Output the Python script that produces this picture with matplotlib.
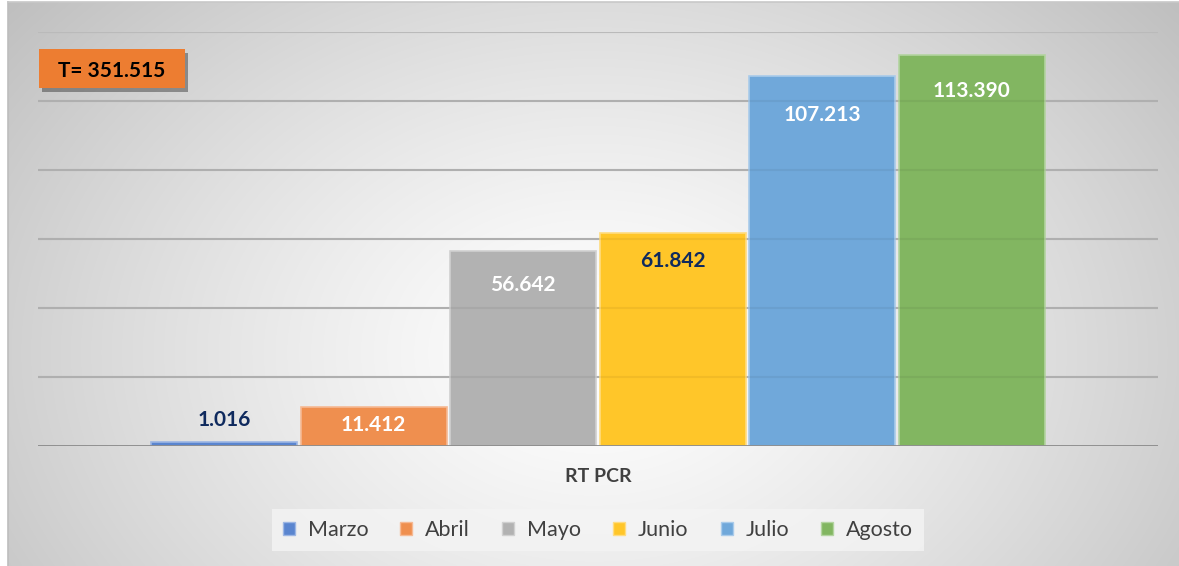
import numpy as np
import matplotlib
matplotlib.use("Agg")
import matplotlib.pyplot as plt
from matplotlib.patches import Patch, Rectangle
from matplotlib import patheffects as pe

# ---- data ----
category = "RT PCR"
months = ["Marzo", "Abril", "Mayo", "Junio", "Julio", "Agosto"]
values = [1016, 11412, 56642, 61842, 107213, 113390]
value_labels = ["1.016", "11.412", "56.642", "61.842", "107.213", "113.390"]
total_label = "T= 351.515"
y_ticks = [0, 20000, 40000, 60000, 80000, 100000, 120000]

# ---- style ----
bar_colors = ["#5a85cf", "#ef8f4f", "#b2b2b2", "#ffc629", "#70a8da", "#82b661"]
edge_colors = ["#9cb6e4", "#f6b993", "#d0d0d0", "#ffdc80", "#a9cbea", "#b3d4a0"]
label_colors = ["#0f2a5e", "white", "white", "#0f2a5e", "white", "white"]
label_offsets_px = [22, -18, -34, -28, -39, -36]
W, H = 1179, 566
FONT = "Lato"

fig = plt.figure(figsize=(W / 100, H / 100), dpi=100)
fig.patch.set_facecolor("white")

# background radial gradient (chart area)
bg = fig.add_axes([8 / W, 0, 1 - 8 / W, 1 - 2 / H])
bg.set_zorder(-10)
ny, nx = 300, 600
yy, xx = np.mgrid[0:ny, 0:nx]
cx, cy = nx * 0.50, ny * 0.62
r = np.sqrt(((xx - cx) / (nx * 0.62)) ** 2 + ((yy - cy) / (ny * 0.95)) ** 2)
val = 1.0 - 0.24 * np.clip(r, 0, 1.2) ** 1.3
val = np.clip(val, 0.7, 1.0)
img = np.dstack([val, val, val])
bg.imshow(img, aspect="auto", extent=[0, 1, 0, 1], origin="upper", interpolation="bilinear")
bg.set_xlim(0, 1); bg.set_ylim(0, 1)
bg.axis("off")
# border lines on left/top
fig.add_artist(plt.Line2D([8 / W, 8 / W], [0, 1 - 2 / H], color="#bdbdbd", lw=1.2))
fig.add_artist(plt.Line2D([8 / W, 1], [1 - 2 / H, 1 - 2 / H], color="#c8c8c8", lw=1.2))

# main axes
ax_left, ax_right, ax_top, ax_bottom = 38, 1158, 32, 446
ax = fig.add_axes([ax_left / W, 1 - ax_bottom / H, (ax_right - ax_left) / W, (ax_bottom - ax_top) / H])
ax.set_facecolor("none")
ax.set_xlim(-0.5, 0.5)
ax.set_ylim(y_ticks[0], y_ticks[-1])
for s in ax.spines.values():
    s.set_visible(False)
ax.set_xticks([])
ax.set_yticks([])
for t in y_ticks[1:]:
    top = t == y_ticks[-1]
    ax.axhline(t, color="#c4c4c4" if top else "#b9b9b9", lw=1.5, zorder=0)
    ax.axhline(t, color="black", lw=1.5, alpha=0.05, zorder=2.5)
ax.axhline(0, color="#8a8a8a", lw=2.0, zorder=3)

step = 0.1335
n = len(values)
xs = [(i - (n - 1) / 2) * step for i in range(n)]
bars = ax.bar(xs, values, width=step - 0.003, color=bar_colors, edgecolor=edge_colors,
              linewidth=1.2, zorder=2)

for x, v, lab, c, off in zip(xs, values, value_labels, label_colors, label_offsets_px):
    ax.annotate(lab, (x, v), xytext=(0, off * 72 / 100), textcoords="offset points",
                ha="center", va="center", fontsize=15, fontweight="bold", color=c,
                family=FONT, zorder=4)

# category label
fig.text(598 / W, 1 - 477 / H, category, ha="center", va="center", fontsize=14,
         fontweight="bold", color="#404040", family=FONT)

# total box
bx0, bx1, by0, by1 = 39, 185, 49, 88
rect = Rectangle((bx0 / W, 1 - by1 / H), (bx1 - bx0) / W, (by1 - by0) / H,
                 transform=fig.transFigure, facecolor="#ed7d31", edgecolor="none", zorder=5)
rect.set_path_effects([pe.SimplePatchShadow(offset=(2, -3), shadow_rgbFace="black", alpha=0.35),
                       pe.Normal()])
fig.add_artist(rect)
fig.text((bx0 + bx1) / 2 / W, 1 - 71 / H, total_label, ha="center", va="center",
         fontsize=15, fontweight="bold", color="black", family=FONT, zorder=6)

# legend
handles = [Patch(facecolor=c, edgecolor=e, linewidth=1.0) for c, e in zip(bar_colors, edge_colors)]
leg = fig.legend(handles, months, loc="center", bbox_to_anchor=(598 / W, 1 - 530 / H), ncol=6,
                 frameon=True, fancybox=False, prop={"family": FONT, "size": 15.5},
                 handlelength=0.55, handleheight=0.55, handletextpad=0.6, columnspacing=1.5,
                 borderpad=0.5, labelcolor="#404040")
leg.get_frame().set_facecolor("#f4f4f4")
leg.get_frame().set_edgecolor("none")
leg.get_frame().set_alpha(0.8)

fig.savefig("out.png", dpi=100)
